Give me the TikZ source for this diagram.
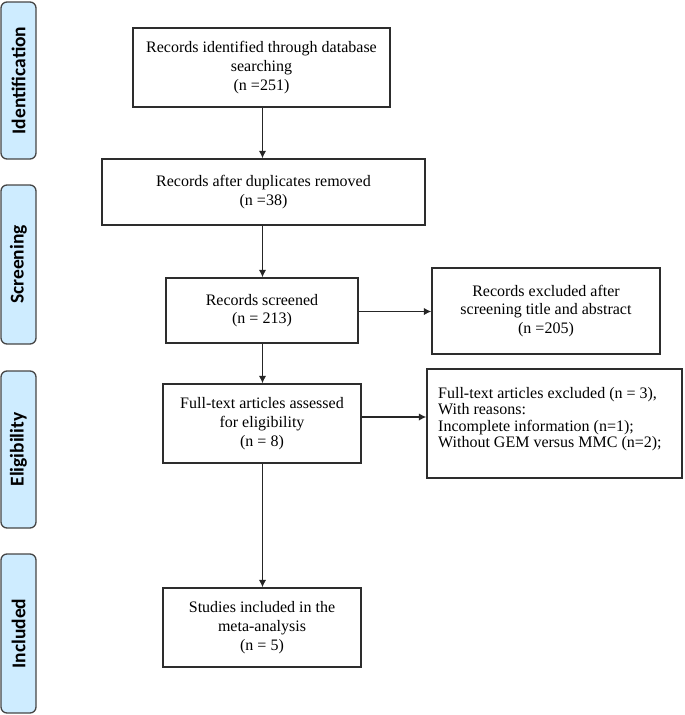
\documentclass[tikz,border=0pt]{standalone}
\usepackage{fontspec}
\setmainfont{Liberation Serif}
\newfontfamily\barfont{Carlito}
\usetikzlibrary{arrows.meta}
\definecolor{barfill}{RGB}{206,236,255}
\definecolor{barline}{RGB}{70,70,70}
\definecolor{boxline}{RGB}{45,45,45}
\begin{document}
\begin{tikzpicture}[x=1pt,y=-1pt,
  stagebar/.style={draw=barline,fill=barfill,line width=1.3pt,rounded corners=6pt,
    rotate=90,minimum height=35pt,inner sep=0pt,
    font=\barfont\bfseries\fontsize{19.5}{22}\selectfont},
  flowbox/.style={draw=boxline,line width=1.3pt,inner sep=0pt,align=center,
    font=\fontsize{16}{18.7}\selectfont},
  flowarrow/.style={draw=black!85,line width=1.6pt,-{Latex[length=7.5pt,width=7.5pt]}}]
\useasboundingbox (0,0) rectangle (685,715);
% stage bars
\node[stagebar,minimum width=157pt] (sid) at (18.5,80.5) {Identification};
\node[stagebar,minimum width=159pt] (ssc) at (18.5,264.5) {Screening};
\node[stagebar,minimum width=157pt] (sel) at (18.5,449.5) {Eligibility};
\node[stagebar,minimum width=159pt] (sin) at (18.5,633.5) {Included};
% boxes
\node[flowbox,minimum width=257pt,minimum height=79pt] (b1) at (261.5,67.5)
  {Records identified through database\\searching\\(n =251)};
\node[flowbox,minimum width=323pt,minimum height=66pt] (b2) at (263.5,192)
  {Records after duplicates removed\\(n =38)};
\node[flowbox,minimum width=192pt,minimum height=65pt] (b3) at (262,310.5)
  {Records screened\\(n = 213)};
\node[flowbox,minimum width=228pt,minimum height=86pt] (b4) at (546,311)
  {Records excluded after\\screening title and abstract\\(n =205)};
\node[flowbox,minimum width=198pt,minimum height=79pt] (b5) at (262,423.5)
  {Full-text articles assessed\\for eligibility\\(n = 8)};
\node[flowbox,minimum width=255pt,minimum height=109pt] (b6) at (554.5,423.5) {};
\node[anchor=north west,inner sep=0pt,align=left,font=\fontsize{16}{16.5}\selectfont] (b6t) at (438,387)
  {Full-text articles excluded (n = 3),\\With reasons:\\Incomplete information (n=1);\\Without GEM versus MMC (n=2);};
\node[flowbox,minimum width=198pt,minimum height=79pt] (b7) at (262,627.5)
  {Studies included in the\\meta-analysis\\(n = 5)};
% arrows
\draw[flowarrow] ([xshift=1pt]b1.south) -- ([xshift=1pt]b1.south |- b2.north);
\draw[flowarrow] ([xshift=0.5pt]b3.north |- b2.south) -- ([xshift=0.5pt]b3.north);
\draw[flowarrow] ([xshift=0.5pt]b3.south) -- ([xshift=0.5pt]b5.north);
\draw[flowarrow] ([xshift=0.5pt]b5.south) -- ([xshift=0.5pt]b7.north);
\draw[flowarrow] ([yshift=-1pt]b3.east) -- ([yshift=-1pt]b3.east -| b4.west);
\draw[flowarrow] ([yshift=6.5pt]b5.east) -- ([yshift=6.5pt]b5.east -| b6.west);
\end{tikzpicture}
\end{document}
